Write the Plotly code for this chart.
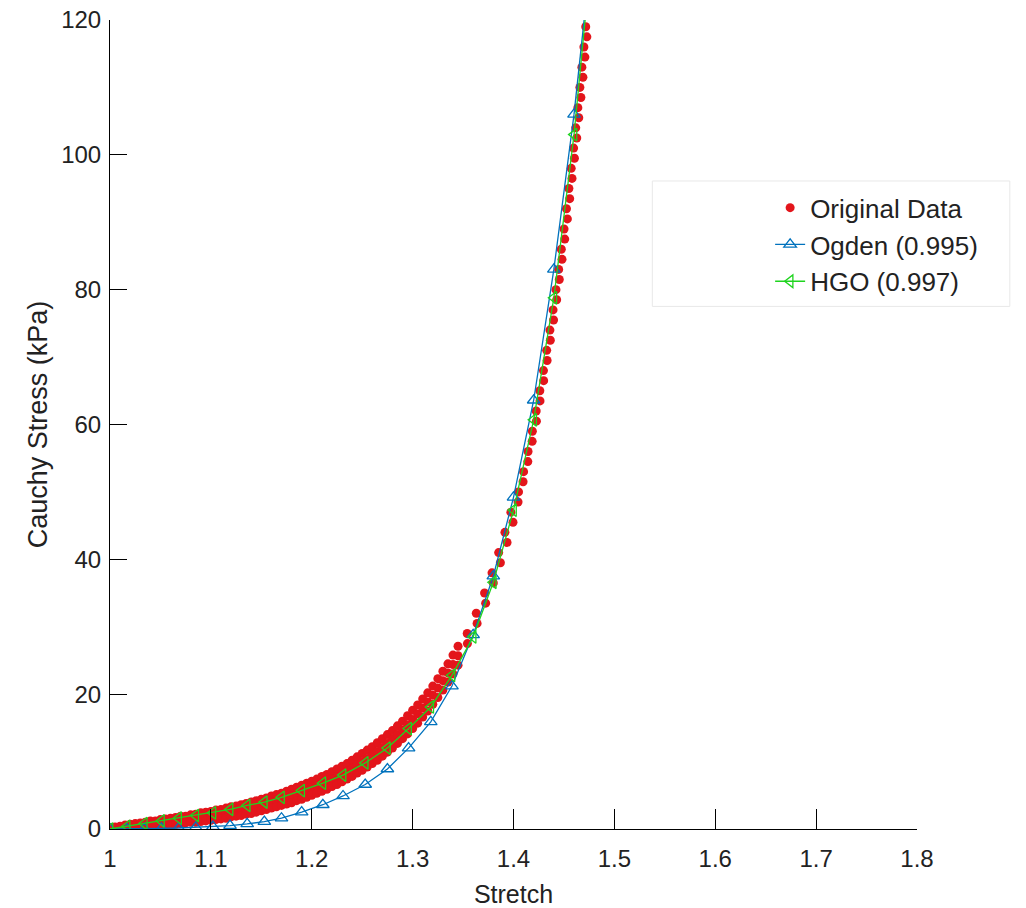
import plotly.graph_objects as go

# ---------------- data ----------------
# Original data, low-stretch region: three rows across the measured band
low_stretch = [1.000, 1.005, 1.010, 1.015, 1.020, 1.025, 1.030, 1.035, 1.040, 1.045,
               1.050, 1.055, 1.060, 1.065, 1.070, 1.075, 1.080, 1.085, 1.090, 1.095,
               1.100, 1.105, 1.110, 1.115, 1.120, 1.125, 1.130, 1.135, 1.140, 1.145,
               1.150, 1.155, 1.160, 1.165, 1.170, 1.175, 1.180, 1.185, 1.190, 1.195,
               1.200, 1.205, 1.210, 1.215, 1.220, 1.225, 1.230, 1.235, 1.240, 1.245,
               1.250, 1.255, 1.260, 1.265, 1.270, 1.275, 1.280, 1.285, 1.290, 1.295,
               1.300, 1.305, 1.310, 1.315, 1.320, 1.325, 1.330, 1.335, 1.340, 1.345]
low_stress_upper = [0.2, 0.3, 0.4, 0.6, 0.7, 0.8, 0.9, 1.0, 1.2, 1.2,
                    1.4, 1.5, 1.6, 1.7, 1.9, 1.9, 2.1, 2.2, 2.4, 2.5,
                    2.6, 2.8, 2.9, 3.1, 3.3, 3.4, 3.6, 3.8, 4.0, 4.2,
                    4.4, 4.6, 4.9, 5.1, 5.3, 5.6, 5.9, 6.2, 6.5, 6.8,
                    7.1, 7.4, 7.8, 8.1, 8.5, 8.9, 9.3, 9.7, 10.2, 10.7,
                    11.2, 11.7, 12.2, 12.8, 13.4, 14.0, 14.6, 15.3, 16.0, 16.8,
                    17.6, 18.4, 19.3, 20.2, 21.2, 22.3, 23.4, 24.5, 25.8, 27.1]
low_stress_middle = [0.1, 0.15, 0.25, 0.35, 0.45, 0.5, 0.6, 0.65, 0.8, 0.8,
                     0.95, 1.05, 1.1, 1.2, 1.35, 1.4, 1.55, 1.6, 1.75, 1.85,
                     1.95, 2.1, 2.2, 2.35, 2.55, 2.65, 2.8, 3.0, 3.15, 3.35,
                     3.55, 3.75, 4.0, 4.2, 4.4, 4.65, 4.9, 5.2, 5.45, 5.75,
                     6.05, 6.35, 6.7, 7.0, 7.4, 7.75, 8.15, 8.55, 9.0, 9.5,
                     9.95, 10.45, 10.95, 11.5, 12.1, 12.7, 13.3, 14.0, 14.7, 15.45,
                     16.25, 17.05, 17.95, 18.85, 19.85, 20.9, 22.0, 23.15, 24.4, 25.7]
low_stress_lower = [0.0, 0.0, 0.1, 0.1, 0.2, 0.2, 0.3, 0.3, 0.4, 0.4,
                    0.5, 0.6, 0.6, 0.7, 0.8, 0.9, 1.0, 1.0, 1.1, 1.2,
                    1.3, 1.4, 1.5, 1.6, 1.8, 1.9, 2.0, 2.2, 2.3, 2.5,
                    2.7, 2.9, 3.1, 3.3, 3.5, 3.7, 3.9, 4.2, 4.4, 4.7,
                    5.0, 5.3, 5.6, 5.9, 6.3, 6.6, 7.0, 7.4, 7.8, 8.3,
                    8.7, 9.2, 9.7, 10.2, 10.8, 11.4, 12.0, 12.7, 13.4, 14.1,
                    14.9, 15.7, 16.6, 17.5, 18.5, 19.5, 20.6, 21.8, 23.0, 24.3]

# Original data, high-stress region
high_stretch = [1.3543, 1.3541, 1.3639, 1.3631, 1.3724, 1.3713, 1.3800, 1.3787, 1.3870, 1.3853,
                1.3936, 1.3915, 1.3995, 1.3974, 1.4045, 1.4050, 1.4095, 1.4100, 1.4142, 1.4144,
                1.4185, 1.4187, 1.4227, 1.4225, 1.4263, 1.4261, 1.4299, 1.4297, 1.4333, 1.4329,
                1.4365, 1.4361, 1.4397, 1.4392, 1.4428, 1.4421, 1.4454, 1.4448, 1.4481, 1.4474,
                1.4508, 1.4501, 1.4534, 1.4525, 1.4557, 1.4549, 1.4580, 1.4572, 1.4604, 1.4596,
                1.4627, 1.4617, 1.4647, 1.4638, 1.4668, 1.4658, 1.4688, 1.4678, 1.4708, 1.4698,
                1.4727, 1.4716]
high_stress = [27.5, 29.0, 30.5, 32.0, 33.5, 35.0, 36.5, 38.0, 39.5, 41.0,
               42.5, 44.0, 45.5, 47.0, 48.5, 50.0, 51.5, 53.0, 54.5, 56.0,
               57.5, 59.0, 60.5, 62.0, 63.5, 65.0, 66.5, 68.0, 69.5, 71.0,
               72.5, 74.0, 75.5, 77.0, 78.5, 80.0, 81.5, 83.0, 84.5, 86.0,
               87.5, 89.0, 90.5, 92.0, 93.5, 95.0, 96.5, 98.0, 99.5, 101.0,
               102.5, 104.0, 105.5, 107.0, 108.5, 110.0, 111.5, 113.0, 114.5, 116.0,
               117.5, 119.0]

# Fitted models (marker points), plus the curve end without marker
fit_stretch = [1.000, 1.017, 1.034, 1.051, 1.068, 1.085, 1.102, 1.119, 1.136, 1.153,
               1.170, 1.190, 1.211, 1.231, 1.253, 1.275, 1.296, 1.318, 1.339, 1.360,
               1.380, 1.400, 1.420, 1.440, 1.460]
ogden_stress = [0.0, 0.0, 0.05, 0.1, 0.15, 0.25, 0.35, 0.5, 0.75, 1.1,
                1.6, 2.5, 3.6, 4.9, 6.6, 8.9, 12.0, 15.9, 21.2, 28.8,
                37.5, 49.2, 63.6, 83.0, 106.0]
hgo_stress = [0.0, 0.4, 0.8, 1.2, 1.6, 2.0, 2.4, 2.9, 3.5, 4.0,
              4.7, 5.7, 6.8, 8.0, 9.8, 12.0, 14.9, 18.1, 22.8, 28.5,
              36.6, 47.3, 60.7, 78.8, 103.0]
ogden_end = [1.470, 120.0]
hgo_end = [1.471, 120.0]

x_ticks = [1, 1.1, 1.2, 1.3, 1.4, 1.5, 1.6, 1.7, 1.8]
y_ticks = [0, 20, 40, 60, 80, 100, 120]

# ---------------- figure ----------------
FONT = "Liberation Sans, Arial, sans-serif"
TXT = "#222222"
RED = "#e3151b"
BLUE = "#0072BD"
GREEN = "#1fd41f"

data_x = low_stretch + low_stretch + low_stretch + high_stretch
data_y = low_stress_upper + low_stress_middle + low_stress_lower + high_stress

fig = go.Figure()
fig.add_trace(go.Scatter(x=data_x, y=data_y, mode="markers", name="Original Data",
                         marker=dict(color=RED, size=9, line=dict(width=0))))
fig.add_trace(go.Scatter(x=fit_stretch, y=ogden_stress, mode="lines+markers", name="Ogden (0.995)",
                         line=dict(color=BLUE, width=1.3),
                         marker=dict(symbol="triangle-up-open", size=11, color=BLUE,
                                     line=dict(width=1.3, color=BLUE))))
fig.add_trace(go.Scatter(x=[fit_stretch[-1], ogden_end[0]], y=[ogden_stress[-1], ogden_end[1]],
                         mode="lines", showlegend=False, line=dict(color=BLUE, width=1.3)))
fig.add_trace(go.Scatter(x=fit_stretch, y=hgo_stress, mode="lines+markers", name="HGO (0.997)",
                         line=dict(color=GREEN, width=1.3),
                         marker=dict(symbol="triangle-left-open", size=11, color=GREEN,
                                     line=dict(width=1.3, color=GREEN))))
fig.add_trace(go.Scatter(x=[fit_stretch[-1], hgo_end[0]], y=[hgo_stress[-1], hgo_end[1]],
                         mode="lines", showlegend=False, line=dict(color=GREEN, width=1.3)))

fig.update_layout(
    width=1026, height=908,
    margin=dict(l=102, r=117, t=12, b=87, autoexpand=False),
    paper_bgcolor="white", plot_bgcolor="white",
    font=dict(family=FONT, color=TXT),
    showlegend=True,
    legend=dict(x=0.818, y=0.797, xanchor="left", yanchor="top",
                bgcolor="rgba(0,0,0,0)", borderwidth=0,
                font=dict(size=26, family=FONT, color=TXT),
                tracegroupgap=0),
    shapes=[dict(type="rect", xref="paper", yref="paper",
                 x0=0.672, x1=1.115, y0=0.646, y1=0.801,
                 line=dict(color="#e8e8e8", width=1), fillcolor="rgba(0,0,0,0)", layer="below")],
)
fig.update_xaxes(range=[1, 1.8], tickvals=x_ticks, ticktext=[f"{v:g}" for v in x_ticks],
                 automargin=False,
                 showline=True, linecolor="black", linewidth=1, mirror=False,
                 ticks="inside", ticklen=20, tickwidth=1, tickcolor="black",
                 ticklabelstandoff=8, ticklabeloverflow="allow",
                 showgrid=False, zeroline=False,
                 tickfont=dict(size=24, family=FONT, color=TXT),
                 title=dict(text="Stretch", font=dict(size=25, family=FONT, color=TXT), standoff=14))
fig.update_yaxes(range=[0, 120], tickvals=y_ticks,
                 automargin=False,
                 showline=True, linecolor="black", linewidth=1, mirror=False,
                 ticks="inside", ticklen=17, tickwidth=1, tickcolor="black",
                 ticklabelstandoff=3, ticklabeloverflow="allow",
                 showgrid=False, zeroline=False,
                 tickfont=dict(size=24, family=FONT, color=TXT),
                 title=dict(text="Cauchy Stress (kPa)", font=dict(size=27, family=FONT, color=TXT), standoff=5))

fig.write_html("out.html")
